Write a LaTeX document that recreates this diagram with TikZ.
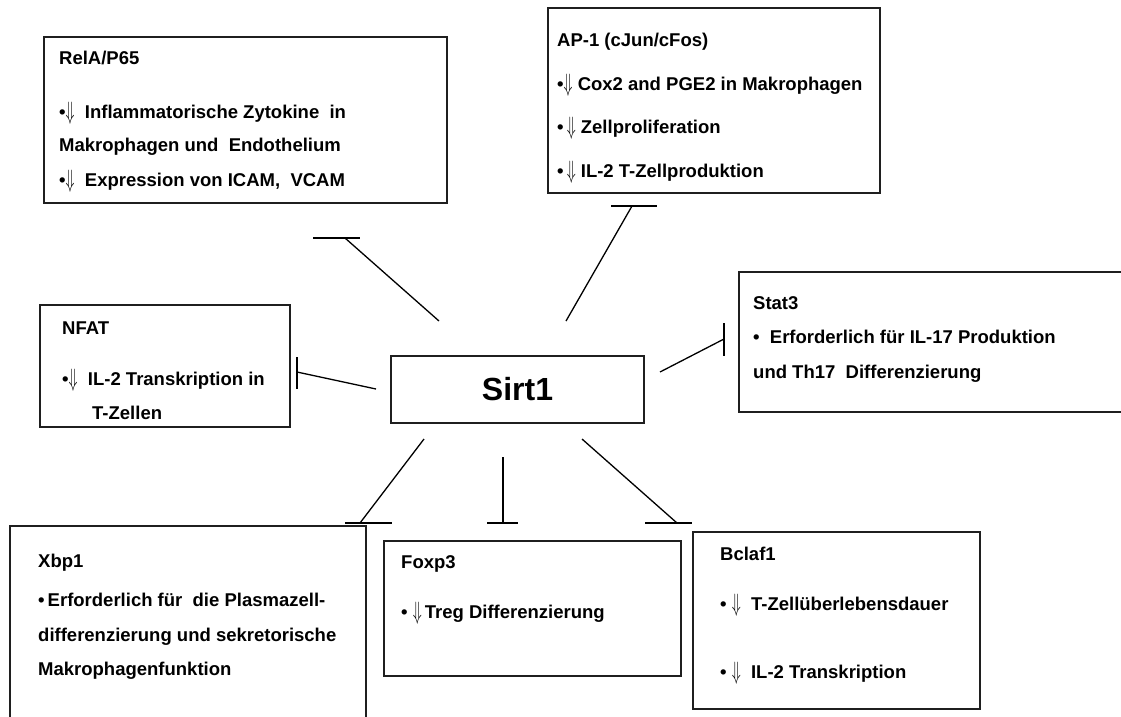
\documentclass[tikz,border=0pt]{standalone}
\usepackage{fontspec}
\setmainfont{Liberation Sans}
\usepackage{graphicx}
\newcommand\dnar{\raisebox{-0.1em}{\scalebox{0.85}[1.45]{$\Downarrow$}}}
\newcommand\mkbox[5]{\node[box, anchor=north west, minimum width={(#4-#2)*1pt}, minimum height={(#5-#3)*1pt}] (#1) at (#2,#3) {};}
\tikzset{
  box/.style={draw=black!88, line width=1.6pt, inner sep=0pt, outer sep=0pt},
  txt/.style={anchor=base west, inner sep=0pt, font=\fontsize{18.5}{22}\selectfont\bfseries},
  link/.style={line width=1.3pt, line cap=butt}
}
\begin{document}
\begin{tikzpicture}[x=1pt,y=-1pt]
\clip (0,0) rectangle (1121,716);
\fill[white] (0,0) rectangle (1121,716);
% boxes
\mkbox{relA}{44}{37}{447}{203}
\mkbox{apone}{548}{8}{880}{193}
\mkbox{nfat}{40}{305}{290}{427}
\mkbox{stat}{739}{272}{1135}{412}
\mkbox{xbp}{10}{526}{366}{730}
\mkbox{foxp}{384}{541}{681}{676}
\mkbox{bclaf}{693}{532}{980}{709}
\node[box, minimum width=253pt, minimum height=67pt, font=\fontsize{32}{36}\selectfont\bfseries] (sirt) at (517.5,389.5) {Sirt1};
% texts RelA
\node[txt] (relAt) at (59,64) {RelA/P65};
\node[txt] (relA1) at (59,118) {•\dnar\ \ Inflammatorische Zytokine\ \ in};
\node[txt] (relA2) at (59,151) {Makrophagen und\ \ Endothelium};
\node[txt] (relA3) at (59,186) {•\dnar\ \ Expression von ICAM,\ \ VCAM};
% AP-1
\node[txt] (apt) at (557,46) {AP-1 (cJun/cFos)};
\node[txt] (ap1) at (557,90) {•\dnar\ Cox2 and PGE2 in Makrophagen};
\node[txt] (ap2) at (557,133) {•\,\dnar\ Zellproliferation};
\node[txt] (ap3) at (557,177) {•\,\dnar\ IL-2 T-Zellproduktion};
% NFAT
\node[txt] (nfatt) at (62,334) {NFAT};
\node[txt] (nfat1) at (62,385) {•\dnar\ \ IL-2 Transkription in};
\node[txt] (nfat2) at (92,419) {T-Zellen};
% Stat3
\node[txt] (statt) at (753,309) {Stat3};
\node[txt] (stat1) at (753,343) {•\ \ Erforderlich für IL-17 Produktion};
\node[txt] (stat2) at (753,378) {und Th17\ \ Differenzierung};
% Xbp1
\node[txt] (xbpt) at (38,567) {Xbp1};
\node[txt] (xbp1) at (38,606) {•\,Erforderlich für\ \ die Plasmazell-};
\node[txt] (xbp2) at (38,641) {differenzierung und sekretorische};
\node[txt] (xbp3) at (38,675) {Makrophagenfunktion};
% Foxp3
\node[txt] (foxpt) at (401,568) {Foxp3};
\node[txt] (foxp1) at (401,618) {•\ \dnar\,Treg Differenzierung};
% Bclaf1
\node[txt] (bclaft) at (720,560) {Bclaf1};
\node[txt] (bclaf1) at (720,610) {•\ \dnar\ \ T-Zellüberlebensdauer};
\node[txt] (bclaf2) at (720,678) {•\ \dnar\ \ IL-2 Transkription};
% connector end points
\coordinate (relAs) at (439,321); \coordinate (relAe) at (345,238);
\coordinate (aps) at (566,321); \coordinate (ape) at (632,206);
\coordinate (nfats) at (376,389); \coordinate (nfate) at (297,372);
\coordinate (stats) at (660,372); \coordinate (state) at (724,339);
\coordinate (xbps) at (424,439); \coordinate (xbpe) at (360,523);
\coordinate (foxps) at (503,457); \coordinate (foxpe) at (503,523);
\coordinate (bclafs) at (582,439); \coordinate (bclafe) at (677,523);
% connectors with bars
\draw[link] (relAs) -- (relAe);
\draw[link] ([xshift=-32pt]relAe) -- ([xshift=15pt]relAe);
\draw[link] (aps) -- (ape);
\draw[link] ([xshift=-21pt]ape) -- ([xshift=25pt]ape);
\draw[link] (nfats) -- (nfate);
\draw[link] ([yshift=15pt]nfate) -- ([yshift=-17pt]nfate);
\draw[link] (stats) -- (state);
\draw[link] ([yshift=16pt]state) -- ([yshift=-17pt]state);
\draw[link] (xbps) -- (xbpe);
\draw[link] ([xshift=-15pt]xbpe) -- ([xshift=32pt]xbpe);
\draw[link] (foxps) -- (foxpe);
\draw[link] ([xshift=-16pt]foxpe) -- ([xshift=15pt]foxpe);
\draw[link] (bclafs) -- (bclafe);
\draw[link] ([xshift=-32pt]bclafe) -- ([xshift=15pt]bclafe);
\end{tikzpicture}
\end{document}
